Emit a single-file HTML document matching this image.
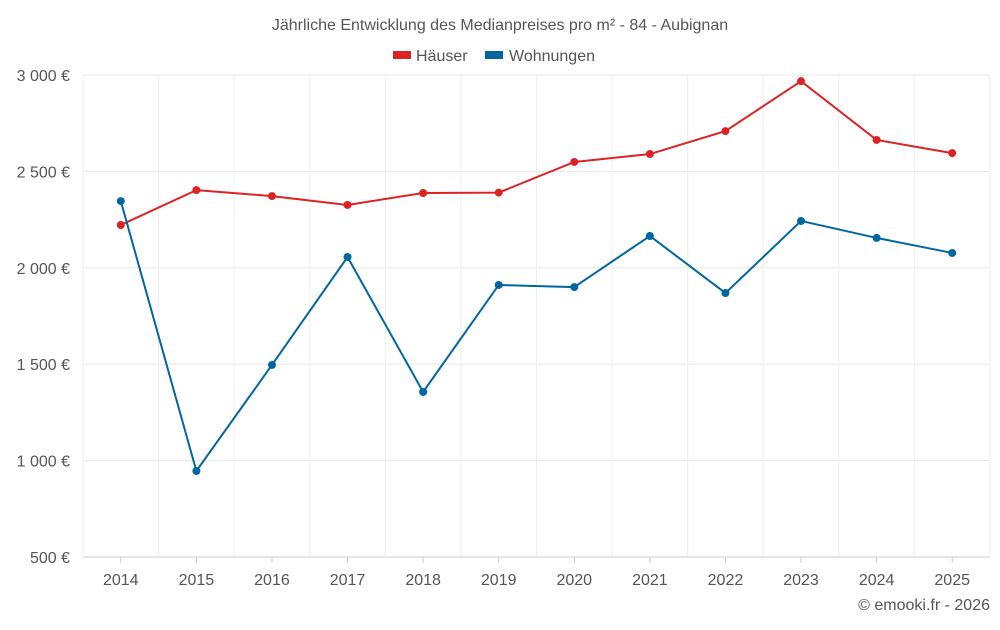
<!DOCTYPE html>
<html><head><meta charset="utf-8">
<style>
body{margin:0;background:#fff;width:1000px;height:625px;overflow:hidden;font-family:"Liberation Sans",sans-serif;}
svg text{font-family:"Liberation Sans",sans-serif;fill:#555;}
</style></head>
<body>
<svg id="chart" width="1000" height="625" viewBox="0 0 1000 625">
<text x="500" y="30" text-anchor="middle" font-size="16">Jährliche Entwicklung des Medianpreises pro m² - 84 - Aubignan</text>
<g>
<g><rect x="393" y="51" width="18" height="8" fill="#dd2222"/><text x="416" y="61" font-size="16">Häuser</text></g>
<g><rect x="485" y="51" width="18" height="8" fill="#0066a0"/><text x="509" y="61" font-size="16">Wohnungen</text></g>
</g>
<g id="grid"></g><g id="axes"></g><g id="series"></g>
<text x="990" y="610" text-anchor="end" font-size="16">© emooki.fr - 2026</text>
</svg>
<script>
const years=["2014","2015","2016","2017","2018","2019","2020","2021","2022","2023","2024","2025"];
const haeuser=[2222,2403,2372,2326,2388,2390,2549,2590,2709,2968,2663,2595];
const wohnungen=[2346,946,1496,2056,1356,1911,1900,2165,1869,2243,2155,2077];
const yTicks=[500,1000,1500,2000,2500,3000];
const yTickLabels=["500 €","1 000 €","1 500 €","2 000 €","2 500 €","3 000 €"];
const L=83,R=990,T=75,B=557,ymin=500,ymax=3000;
const ns="http://www.w3.org/2000/svg";
const bw=(R-L)/years.length;
function x(i){return L+bw*(i+0.5);}
function y(v){return B-(v-ymin)/(ymax-ymin)*(B-T);}
function mk(tag,attrs,parent){const e=document.createElementNS(ns,tag);for(const k in attrs)e.setAttribute(k,attrs[k]);parent.appendChild(e);return e;}
const grid=document.getElementById('grid'),axes=document.getElementById('axes'),ser=document.getElementById('series');
yTicks.forEach((t,i)=>{
 const l=mk('line',{x1:L,x2:R,y1:y(t),y2:y(t),stroke:i==0?'#ccc':'#e8e8e8','stroke-width':1},grid);
 
 
 const tx=mk('text',{x:70,y:y(t)+6,'text-anchor':'end','font-size':16},axes);
 tx.textContent=yTickLabels[i];
 
 
});
for(let i=0;i<=years.length;i++){
 const l=mk('line',{x1:L+bw*i,x2:L+bw*i,y1:T,y2:B,stroke:'#eee','stroke-width':1},grid);
 
 
}
years.forEach((yr,i)=>{
 const tk=mk('line',{x1:x(i),x2:x(i),y1:B,y2:B+6,stroke:'#ccc'},axes);
 
 
 const tx=mk('text',{x:x(i),y:585,'text-anchor':'middle','font-size':16},axes);
 tx.textContent=yr;
 
 
});
function draw(vals,color,name){
 const p=mk('polyline',{points:vals.map((v,i)=>x(i)+','+y(v)).join(' '),fill:'none',stroke:color,'stroke-width':2},ser);
 
 
 vals.forEach((v,i)=>{
  const c=mk('circle',{cx:x(i),cy:y(v),r:4,fill:color},ser);
  
  
 });
}
draw(haeuser,'#dd2222','haeuser');
draw(wohnungen,'#0066a0','wohnungen');
</script>
</body></html>
